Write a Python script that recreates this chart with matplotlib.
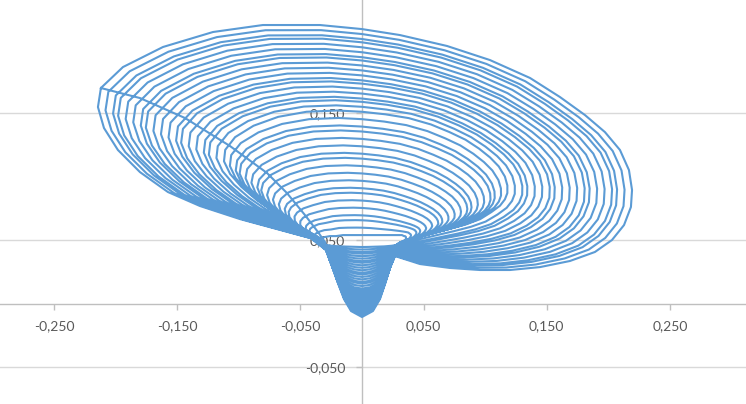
import numpy as np
import matplotlib.pyplot as plt

# outermost loop (starts at the bottom of the funnel,
# runs right along the bottom, up the right end, over the top, down the left)
outer_x = [0.0000, 0.0089, 0.0146, 0.0187, 0.0227, 0.0268, 0.0471, 0.0714,
           0.0958, 0.1201, 0.1445, 0.1688, 0.1891, 0.2029, 0.2127, 0.2183,
           0.2192, 0.2167, 0.2094, 0.1972, 0.1810, 0.1607, 0.1364, 0.1039,
           0.0690, 0.0308, 0.0000, -0.0341, -0.0804, -0.1209, -0.1615, -0.1940,
           -0.2119, -0.2143, -0.2094, -0.1981, -0.1802, -0.1575, -0.1315, -0.0990,
           -0.0666, -0.0422, -0.0292, -0.0244, -0.0195, -0.0146, -0.0089]
outer_y = [-0.0106, -0.0059, 0.0035, 0.0154, 0.0280, 0.0374, 0.0311, 0.0280,
           0.0264, 0.0264, 0.0287, 0.0335, 0.0406, 0.0500, 0.0618, 0.0760,
           0.0894, 0.1051, 0.1209, 0.1350, 0.1484, 0.1626, 0.1776, 0.1917,
           0.2028, 0.2114, 0.2161, 0.2193, 0.2193, 0.2138, 0.2020, 0.1862,
           0.1697, 0.1547, 0.1382, 0.1209, 0.1035, 0.0878, 0.0768, 0.0665,
           0.0580, 0.0516, 0.0421, 0.0295, 0.0161, 0.0035, -0.0059]

# a loop from the middle of the stack, same points in the same order
mid_x = [0.0000, 0.0065, 0.0130, 0.0195, 0.0240, 0.0275, 0.0340, 0.0450,
         0.0580, 0.0720, 0.0850, 0.0960, 0.1050, 0.1120, 0.1160, 0.1180,
         0.1180, 0.1160, 0.1110, 0.1040, 0.0950, 0.0840, 0.0710, 0.0560,
         0.0380, 0.0190, 0.0000, -0.0200, -0.0450, -0.0680, -0.0880, -0.1030,
         -0.1110, -0.1120, -0.1070, -0.0980, -0.0860, -0.0740, -0.0620, -0.0510,
         -0.0420, -0.0350, -0.0292, -0.0255, -0.0200, -0.0130, -0.0065]
mid_y = [0.0118, 0.0128, 0.0160, 0.0230, 0.0330, 0.0430, 0.0490, 0.0520,
         0.0555, 0.0590, 0.0625, 0.0665, 0.0720, 0.0770, 0.0820, 0.0870,
         0.0930, 0.1000, 0.1080, 0.1150, 0.1220, 0.1290, 0.1350, 0.1410,
         0.1460, 0.1490, 0.1510, 0.1520, 0.1510, 0.1470, 0.1400, 0.1310,
         0.1210, 0.1120, 0.1020, 0.0920, 0.0820, 0.0740, 0.0670, 0.0610,
         0.0560, 0.0520, 0.0440, 0.0340, 0.0230, 0.0160, 0.0128]

# innermost loop, a flat arc over the mouth of the funnel
inner_x = [0.0000, 0.0055, 0.0110, 0.0180, 0.0240, 0.0275, 0.0300, 0.0317,
           0.0333, 0.0349, 0.0357, 0.0357, 0.0357, 0.0349, 0.0341, 0.0325,
           0.0308, 0.0284, 0.0252, 0.0219, 0.0187, 0.0146, 0.0114, 0.0081,
           0.0049, 0.0024, 0.0000, -0.0032, -0.0097, -0.0154, -0.0211, -0.0260,
           -0.0300, -0.0325, -0.0341, -0.0341, -0.0341, -0.0341, -0.0333, -0.0325,
           -0.0317, -0.0300, -0.0292, -0.0250, -0.0180, -0.0110, -0.0055]
inner_y = [0.0445, 0.0446, 0.0448, 0.0450, 0.0455, 0.0460, 0.0476, 0.0484,
           0.0492, 0.0500, 0.0508, 0.0516, 0.0524, 0.0531, 0.0531, 0.0539,
           0.0539, 0.0539, 0.0539, 0.0539, 0.0539, 0.0539, 0.0539, 0.0539,
           0.0539, 0.0539, 0.0539, 0.0539, 0.0539, 0.0539, 0.0531, 0.0531,
           0.0524, 0.0516, 0.0508, 0.0500, 0.0492, 0.0484, 0.0476, 0.0469,
           0.0461, 0.0445, 0.0460, 0.0455, 0.0450, 0.0448, 0.0446]

# place of each loop in the stack: 0 = inner, 0.5 = mid, 1 = outer
loop_pos = [0.00, 0.03, 0.06, 0.08, 0.11, 0.14, 0.17, 0.19, 0.22, 0.25,
            0.28, 0.31, 0.33, 0.36, 0.39, 0.42, 0.44, 0.47, 0.50, 0.53,
            0.56, 0.58, 0.61, 0.64, 0.67, 0.69, 0.72, 0.75, 0.78, 0.81,
            0.83, 0.86, 0.89, 0.92, 0.94, 0.97, 1.00]

# the single stroke from the left tip back into the funnel
radial_x = [-0.2119, -0.1802, -0.1437, -0.1071, -0.0771, -0.0609, -0.0463, -0.0357, -0.0300]
radial_y = [0.1697, 0.1618, 0.1461, 0.1240, 0.1028, 0.0870, 0.0697, 0.0563, 0.0484]

xticks = [-0.25, -0.15, -0.05, 0.05, 0.15, 0.25]
yticks = [-0.05, 0.05, 0.15]

stack_x = np.array([inner_x, mid_x, outer_x])
stack_y = np.array([inner_y, mid_y, outer_y])
stops = [0, 0.5, 1]
# each loop is walked from the left lip of the funnel, so loops join end to end
order = list(range(42, 47)) + list(range(0, 42))

xs = list(radial_x)
ys = list(radial_y)
for p in loop_pos:
    xs += [np.interp(p, stops, stack_x[:, i]) for i in order]
    ys += [np.interp(p, stops, stack_y[:, i]) for i in order]

fig = plt.figure(figsize=(7.46, 4.04), dpi=100)
ax = fig.add_axes([0, 0, 1, 1])

for y in yticks:
    ax.axhline(y, color='#D9D9D9', lw=1, zorder=0.5)

ax.plot(xs, ys, color='#5B9BD5', lw=1.5, zorder=2)

ax.set_xlim(-0.2938, 0.3117)
ax.set_ylim(-0.0791, 0.2390)

ax.spines['top'].set_visible(False)
ax.spines['right'].set_visible(False)
ax.spines['left'].set_position(('data', 0))
ax.spines['bottom'].set_position(('data', 0))
for s in ['left', 'bottom']:
    ax.spines[s].set_color('#BFBFBF')
    ax.spines[s].set_linewidth(1)
    ax.spines[s].set_zorder(0.6)

fmt = lambda v: f"{v:.3f}".replace('.', ',')
ax.set_xticks(xticks)
ax.set_xticklabels([fmt(v) for v in xticks])
ax.set_yticks(yticks)
ax.set_yticklabels([fmt(v) for v in yticks])
ax.tick_params(axis='both', length=4, width=1, color='#BFBFBF',
               labelcolor='#595959', labelsize=10, pad=8)
for lab in ax.get_xticklabels() + ax.get_yticklabels():
    lab.set_family('Lato')

fig.savefig('out.png', dpi=100)
